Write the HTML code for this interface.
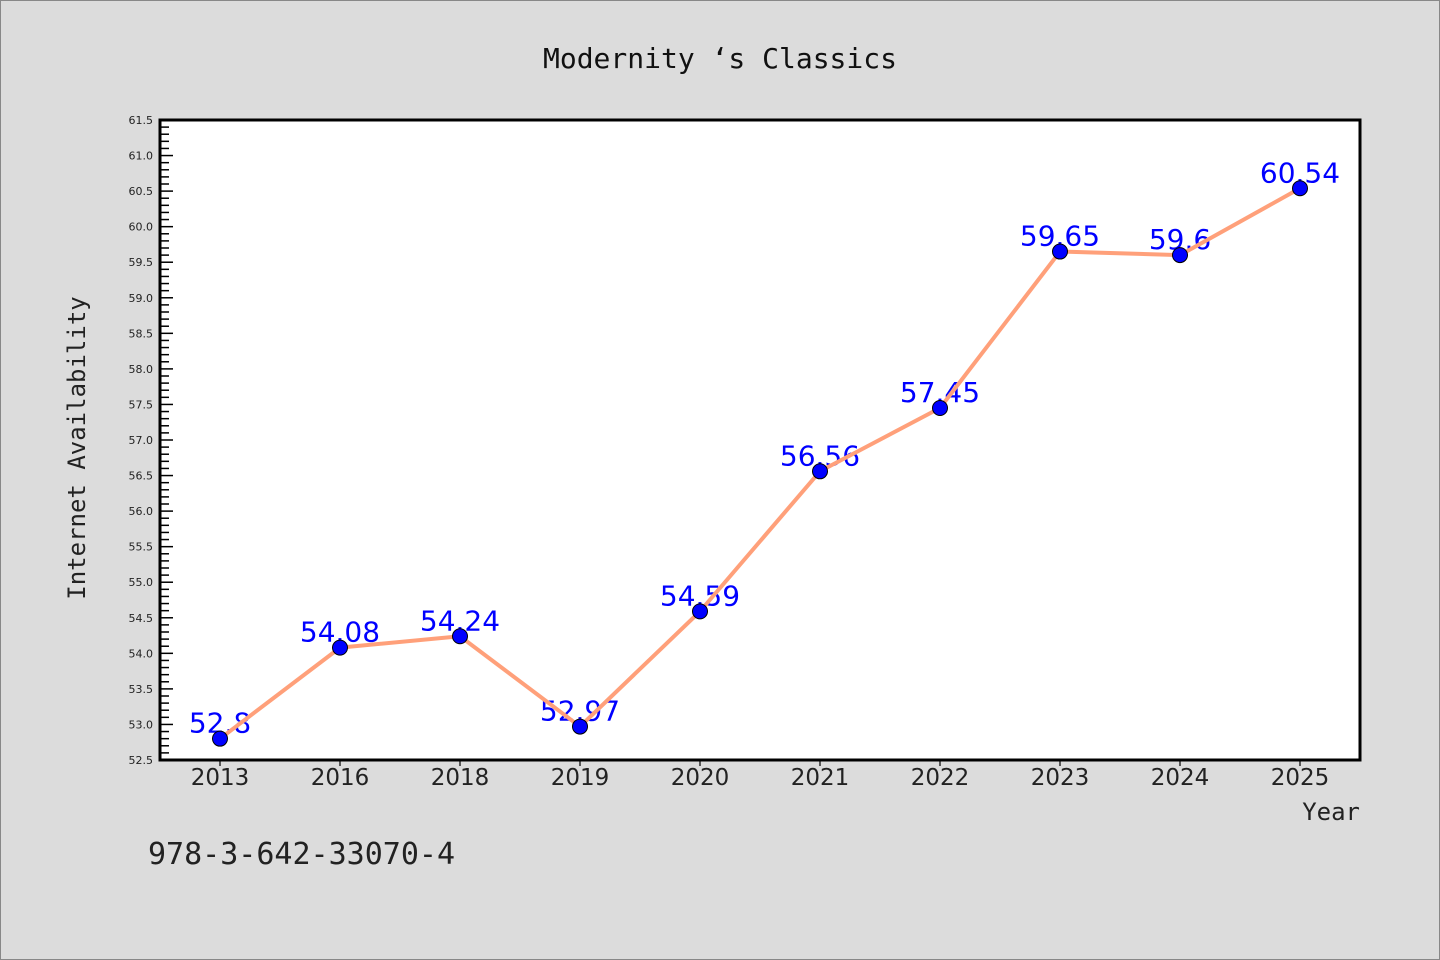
<!DOCTYPE html>
<html><head><meta charset="utf-8"><style>
html,body{margin:0;padding:0;background:#dcdcdc;}
svg{display:block;}
</style></head><body>
<svg id="chart" width="1440" height="960" xmlns="http://www.w3.org/2000/svg">
<rect x="0.5" y="0.5" width="1439" height="959" fill="#dcdcdc" stroke="#888"/>
<text x="720" y="68" text-anchor="middle" font-family="'DejaVu Sans Mono','Liberation Mono',monospace" font-size="28" fill="#111">Modernity ‘s Classics</text>
<rect x="160" y="120" width="1200" height="640" fill="#fff" stroke="#000" stroke-width="3"/>
<g id="yaxis"></g>
<g id="xaxis"></g>
<text transform="translate(85,448) rotate(-90)" text-anchor="middle" font-family="'DejaVu Sans Mono','Liberation Mono',monospace" font-size="24" fill="#222">Internet Availability</text>
<text x="1360" y="820" text-anchor="end" font-family="'DejaVu Sans Mono','Liberation Mono',monospace" font-size="24" fill="#222">Year</text>
<text x="148" y="864" font-family="'DejaVu Sans Mono','Liberation Mono',monospace" font-size="30" fill="#222">978-3-642-33070-4</text>
<g id="labels"></g>
<g id="series"></g>
</svg>
<script>
const categories = ["2013","2016","2018","2019","2020","2021","2022","2023","2024","2025"];
const values = [52.8,54.08,54.24,52.97,54.59,56.56,57.45,59.65,59.6,60.54];
const valueLabels = ["52.8","54.08","54.24","52.97","54.59","56.56","57.45","59.65","59.6","60.54"];
const yTicks = [52.5,53.0,53.5,54.0,54.5,55.0,55.5,56.0,56.5,57.0,57.5,58.0,58.5,59.0,59.5,60.0,60.5,61.0,61.5];
const yMin = 52.5, yMax = 61.5;
const NS="http://www.w3.org/2000/svg";
const L=160,R=1360,T=120,B=760;
function y(v){return B-(v-yMin)/(yMax-yMin)*(B-T);}
function x(i){return 220+i*120;}
function mk(tag,attrs,parent){const e=document.createElementNS(NS,tag);for(const k in attrs)e.setAttribute(k,attrs[k]);parent.appendChild(e);return e;}
const ya=document.getElementById('yaxis');
for(let v=yMin;v<=yMax+1e-9;v+=0.1){
  const major=Math.abs(v*2-Math.round(v*2))<1e-6;
  const t=mk('line',{x1:L,x2:L+(major?13:9),y1:y(v),y2:y(v),stroke:'#000','stroke-width':1.5},ya);
  
  
}
yTicks.forEach(v=>{
  const t=mk('text',{x:153,y:y(v)+4,'text-anchor':'end','font-family':"'DejaVu Sans',sans-serif",'font-size':11,fill:'#222'},ya);
  t.textContent=v.toFixed(1);
  
  
});
const xa=document.getElementById('xaxis');
categories.forEach((c,i)=>{
  const l=mk('line',{x1:x(i),x2:x(i),y1:B,y2:B+6,stroke:'#000','stroke-width':1.2},xa);
  
  
  const t=mk('text',{x:x(i),y:785,'text-anchor':'middle','font-family':"'DejaVu Sans',sans-serif",'font-size':23,fill:'#222'},xa);
  t.textContent=c;
  
  
});
const lb=document.getElementById('labels');
values.forEach((v,i)=>{
  const t=mk('text',{x:x(i),y:y(v)-6,'text-anchor':'middle','font-family':"'DejaVu Sans',sans-serif",'font-size':28,fill:'#0000ff'},lb);
  t.textContent=valueLabels[i];
  
  
});
const sg=document.getElementById('series');
const pl=mk('polyline',{points:values.map((v,i)=>x(i)+','+y(v)).join(' '),fill:'none',stroke:'#ffa07a','stroke-width':4,'stroke-linejoin':'round'},sg);


values.forEach((v,i)=>{
  const c=mk('circle',{cx:x(i),cy:y(v),r:7.5,fill:'#0000ff',stroke:'#000','stroke-width':1},sg);
  
  
});
</script>
</body></html>
